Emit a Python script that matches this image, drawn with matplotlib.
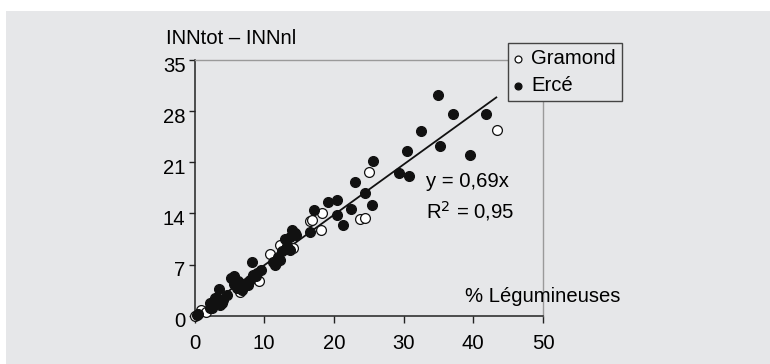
import numpy as np
import matplotlib.pyplot as plt
import matplotlib.transforms as mtransforms
from matplotlib.patches import Rectangle

plt.rcParams['font.family'] = ['Liberation Sans', 'DejaVu Sans']

# --- données ---
gramond_x = [0.0, 1.0, 1.7, 6.5, 9.2, 10.8, 12.3, 14.2, 16.6, 16.9, 18.3, 18.1, 23.7, 24.4, 25.1, 43.4]
gramond_y = [0.0, 0.8, 0.5, 3.3, 4.7, 8.4, 9.7, 9.2, 12.9, 13.1, 14.0, 11.7, 13.2, 13.4, 19.7, 25.4]

erce_x = [0.3, 0.5, 2.2, 2.5, 2.7, 2.2, 3.7, 4.0, 3.2, 2.9, 4.1, 4.6, 3.5, 6.1, 6.8,
          5.6, 5.3, 5.7, 6.3, 7.0, 7.7, 8.0, 8.4, 8.9, 9.5, 8.8, 8.3, 11.2, 11.7, 11.5,
          12.0, 12.3, 12.5, 13.7, 13.2, 13.0, 13.7, 14.4, 14.0, 14.5, 16.5, 17.2, 19.1,
          20.4, 20.5, 21.3, 22.5, 23.0, 24.5, 25.4, 25.6, 29.3, 30.8, 30.5, 32.5, 35.2,
          34.9, 37.1, 39.5, 41.8]
erce_y = [0.1, 0.3, 1.0, 1.0, 1.7, 1.7, 1.5, 1.7, 2.4, 2.4, 2.2, 2.8, 3.6, 3.8, 3.5,
          4.4, 5.1, 5.4, 4.7, 4.4, 4.2, 4.9, 5.6, 5.9, 6.3, 5.4, 7.4, 7.4, 7.2, 6.9,
          8.1, 7.6, 8.8, 9.0, 9.5, 10.5, 10.8, 11.3, 11.7, 11.1, 11.5, 14.4, 15.6,
          15.8, 13.8, 12.4, 14.6, 18.3, 16.8, 15.2, 21.2, 19.6, 19.1, 22.6, 25.3, 23.2,
          30.2, 27.6, 22.0, 27.6]

slope = 0.69
fit_x = [0, 43.3]

x_ticks = [0, 10, 20, 30, 40, 50]
y_ticks = [0, 7, 14, 21, 28, 35]

BG = '#e6e7e9'
FS = 14.6

fig = plt.figure(figsize=(7.7, 3.64), dpi=100)
fig.patch.set_facecolor('white')
fig.patches.append(Rectangle((6 / 770, 0), 1, 1 - 11 / 364, transform=fig.transFigure,
                             facecolor=BG, edgecolor='none', zorder=-10))

ax = fig.add_axes([194.5 / 770, 48.3 / 364, 348.5 / 770, 255.7 / 364])
ax.set_facecolor('none')

ax.plot(fit_x, [slope * v for v in fit_x], color='#111111', lw=1.3, zorder=2)
ax.scatter(gramond_x, gramond_y, s=50, facecolor='white', edgecolor='#111111',
           linewidths=0.9, zorder=3, label='Gramond', clip_on=False)
ax.scatter(erce_x, erce_y, s=50, facecolor='#111111', edgecolor='#111111',
           linewidths=0.9, zorder=4, label='Ercé', clip_on=False)

ax.set_xlim(0, 50)
ax.set_ylim(0, 35)
ax.set_xticks(x_ticks)
ax.set_yticks(y_ticks)
ax.tick_params(labelsize=FS, width=1, color='#222222')
ax.tick_params(axis='x', length=5, pad=8)
ax.tick_params(axis='y', length=4, pad=2.5)
# étiquettes de l'axe y un peu plus bas que les graduations
shift = mtransforms.ScaledTranslation(0, -4 / 100, fig.dpi_scale_trans)
for lab in ax.get_yticklabels():
    lab.set_transform(lab.get_transform() + shift)
for s in ['left', 'bottom']:
    ax.spines[s].set_color('#222222')
    ax.spines[s].set_linewidth(1.1)
for s in ['top', 'right']:
    ax.spines[s].set_color('#9a9a9a')
    ax.spines[s].set_linewidth(1.0)

fig.text(166 / 770, 1 - 38 / 364, 'INNtot – INNnl', fontsize=FS, va='center', ha='left')
ax.text(426 / 770, 1 - 181.7 / 364, 'y = 0,69x', transform=fig.transFigure,
        fontsize=FS, va='center', ha='left')
ax.text(426 / 770, 1 - 210.7 / 364, 'R$^{2}$ = 0,95', transform=fig.transFigure,
        fontsize=FS, va='center', ha='left')
ax.text(620 / 770, 1 - 297 / 364, '% Légumineuses', transform=fig.transFigure,
        fontsize=FS, va='center', ha='right')

leg = ax.legend(loc='upper left', bbox_to_anchor=(508 / 770, 1 - 43 / 364),
                bbox_transform=fig.transFigure, borderaxespad=0, fontsize=FS,
                frameon=True, fancybox=False, handlelength=0.4, handletextpad=0.45,
                borderpad=0.3, labelspacing=0.4, markerscale=0.7)
frame = leg.get_frame()
frame.set_facecolor(BG)
frame.set_edgecolor('#444444')
frame.set_linewidth(1.0)
frame.set_alpha(1)

fig.savefig('out.png', dpi=100)
